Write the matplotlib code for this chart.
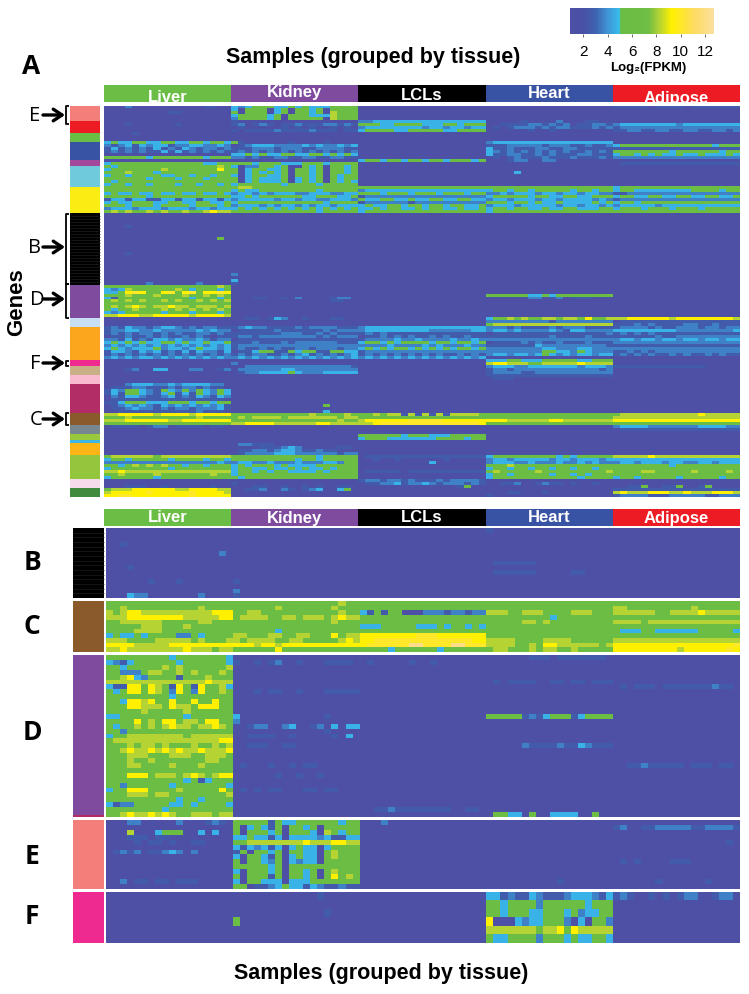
import numpy as np
import matplotlib
matplotlib.use("Agg")
import matplotlib.pyplot as plt
from matplotlib.colors import LinearSegmentedColormap

# tissues
tissues = ["Liver", "Kidney", "LCLs", "Heart", "Adipose"]
tissue_colors = ["#6ABD45", "#7F4B9E", "#000000", "#3953A4", "#ED1C24"]

# expression classes, log2(FPKM) per class
level_values = [1.0, 2.6, 3.6, 4.7, 6.0, 8.2, 9.2, 10.0, 12.0]

# colour bar
bar_ticks = [2, 4, 6, 8, 10, 12]
cmap_values = [0.9, 2.0, 3.0, 4.0, 4.95, 5.0, 7.3, 8.2, 9.2, 11.0, 12.65]
cmap_colors = ["#4F50A5", "#4851A5", "#3F63B0", "#3E97D6", "#38BDEE", "#6ABD45",
               "#6FBE44", "#B5D334", "#FFF100", "#FFDC60", "#FCDFA0"]

# row clusters of panel A (number of rows, colour)
cluster_rows = [5, 4, 3, 6, 2, 7, 9, 24, 11, 3, 11, 2, 3, 3, 10, 4, 3, 2, 1, 4, 8, 3, 3]
cluster_colors = ["#F27F7A", "#ED1C24", "#6ABD45", "#3953A4", "#A2479B", "#6FCBDC", "#FBEC14",
                  "#000000", "#7F4B9E", "#C6DFF3", "#FBA61C", "#EE2A90", "#C8AF85", "#F9B9CF",
                  "#B22D66", "#8B5A2B", "#78878F", "#99C83C", "#3DB7E4", "#FDB515", "#94C63D",
                  "#F6DCEB", "#3F8B3E"]

# zoomed panels: label, sidebar colour
zoom_labels = ["B", "C", "D", "E", "F"]
zoom_colors = ["#000000", "#8B5A2B", "#7F4B9E", "#F27F7A", "#EE2A90"]

# panel A, one string per row, one char per sample (single char = whole tissue)
liver_a = ["000200000000001100", "0", "000000000110000000", "0", "0",
           "0", "000100000010000000", "0", "0",
           "000010000000000000", "0", "0",
           "343344334433443443", "212313233122332232", "131212131213212212", "121212113131212121", "0", "444444344444443444",
           "0", "344444444444443344",
           "434444444444444454", "344444445444444464", "444544434444444444", "344344443344344344", "444444344434443444", "434444444444444444", "344344344434434434",
           "444444444444444444", "444444444444444444", "343343343343343343", "444444344444444444", "133133113313313313", "343344433443344334", "444344434444344434", "233323332333233233", "454544545445445655"] \
    + ["0"] * 4 + ["000100000000000000"] + ["0"] * 3 + ["000000000000000040"] + ["0"] * 4 + ["000100000000000000"] + ["0"] * 9 + ["000000200000020000"] \
    + ["444444444444444454", "323544444454344434", "334676446746746676", "444544454445445454", "314444444444344434", "454545445454454545", "444444444444444444", "454565455655455545", "434454445454545454", "323444443444344434", "556665566666566665"] \
    + ["0"] * 3 \
    + ["121322123321212211", "122332232222232322", "121212212121122121", "011211212112121011", "221312133232232122", "343434334434334334", "232323232323232323", "343233342332343323", "133213231213132213", "121212121212121212", "232323323232323232"] \
    + ["0"] * 3 + ["000120033000220012"] + ["0"] * 4 \
    + ["000233322323333220", "011122111212212110", "132443214324243243", "131443213413143243", "021332112312132132", "011111111111111110", "113444333444344344", "012323213232323231", "011232212122122231", "001111111111121110"] \
    + ["556666656666566666", "444544444444454444", "555666666556666666", "444444444444444444"] \
    + ["011110122011110110"] + ["0"] * 9 \
    + ["455555545555555555", "344344444344443443", "222222222222222232", "443454545443443444", "344444444344444444", "556555555555555555", "445444454444444544", "344444434444444444"] \
    + ["0", "0", "000111001000000100", "455566666655666655", "566666766666766665", "667766666666766666"]

kidney_a = ["323444334343334444", "304440340443404444", "404440340443405444", "344443404443335444", "244443404444405444",
            "100000000000000000", "120121011211122121", "010000010101001010", "101111211112111011",
            "0", "0", "0",
            "410000001000010000", "012333222232322323", "111222122211222211", "121212121212121212", "334343344334434343", "221211221122112211",
            "0", "444344433344434444",
            "302244340043404434", "403443340443404434", "403434340443404434", "303443340443404344", "403433340343404344", "403433340343404343", "344444434444344444",
            "455444444444444444", "343344444444344444", "233232333223332233", "334344444433444334", "233333233233223332", "344444444444434444", "233323233232332333", "343434343434343434", "444444444444344444"] \
    + ["0"] * 20 + ["200000000000000000", "0", "300000000000000000", "100000000000000000"] \
    + ["0"] * 4 + ["000110010200001220", "000000000000001100"] + ["0"] * 5 \
    + ["001101320010001100", "0", "0"] \
    + ["123221111212222111", "011111211111121222", "111111122211212111", "122122222222121222", "011111111111111111", "111211121222222111", "122222222222222222", "121121211221222122", "011344114344114433", "121221121231212123", "232323232323232323"] \
    + ["0", "200000000000000000", "002222222222222221", "022222233222222222", "012233334322233333"] + ["0"] * 3 \
    + ["0"] * 7 + ["000000000000040000", "0", "000000000000030000"] \
    + ["444444444445444454", "454555545555555455", "444444444444444544", "556666555555665555"] \
    + ["0"] * 6 + ["022111000000000000", "000011123200000110", "011221233211211000", "012222333222222122"] \
    + ["444444444444344444", "444444444344344444", "233223222322233244", "343444343333444444", "344334334343343444", "344343443333434444", "344444444444444444", "434444444444444444"] \
    + ["0", "100000000000000000", "000110010010100110", "001120021012300340", "0", "0"]

lcl_a = ["0"] * 5 \
    + ["223333333333333333", "444334444333443444", "233333333233233233", "344443344444334444"] \
    + ["0"] * 9 + ["344344344344344434", "0"] + ["0"] * 7 \
    + ["444444444444444444", "233333333333333333", "444344434443444344", "122222222222222222", "433443343344334433", "122222212222222222", "343344344344344334", "334344334344334334", "344444444444444444"] \
    + ["0"] * 38 \
    + ["233333333333333333", "233333333322222233", "121211111111111111", "011212121121211211", "122223223222232232", "344343444434434434", "222232222323222322", "343434434343434434", "122222222222222222", "121212121212112121", "232323232323232323"] \
    + ["0"] * 18 \
    + ["445455151515155554", "444444444444444444", "566666677777666666", "556777777777777776"] \
    + ["0"] * 3 + ["444444344433344444", "344433333334444344"] + ["0"] * 5 \
    + ["011111111111111111", "001001000000100000", "000000000030000000", "0", "0", "011111011111111111", "0", "0"] \
    + ["122122121112122221", "011223122321222121", "000000000000001400", "0", "0", "0"]

heart_a = ["0"] * 5 \
    + ["000001000020001100", "001111221212011221", "010122212122111212", "000000100100000000"] \
    + ["0"] * 3 \
    + ["233333333333333333", "111222221222112112", "311211122112211111", "321212121212112121", "311221121211122111", "010121112111211121", "000122002200000000", "0"] \
    + ["0", "0", "000030000000000000", "0", "0", "0", "0"] \
    + ["444444444444444444", "344344344444344344", "223233323323323322", "344444344334433444", "233233323323333232", "444344343343333434", "233323333323323323", "344344334334433344", "344444444444444444"] \
    + ["0"] * 27 + ["444444334344444444", "000000220120111000"] + ["0"] * 6 \
    + ["344545445545546445", "222222222122222222", "455555555555555555"] \
    + ["222121111212221111", "233232222321332222", "011111111111111112", "111111111211112111", "222222222222222222", "011112121121112111", "111111132222222221", "222222223322233222", "222222224433243222", "233233234323233233", "0"] \
    + ["333443334444433444", "566555445555565555", "233322333333323332", "122122222222222212", "122221122222222222", "111111111111111111", "011100000000000000", "0"] \
    + ["0"] * 10 \
    + ["444444444444444444", "444444444444444444", "666555555665555555", "444444444444444444"] \
    + ["0"] * 10 \
    + ["344444444434344444", "233233333233233323", "233322322232232322", "444544444444444444", "344344344344344344", "454444454444444445", "344344444344343444", "344444444444434444"] \
    + ["0", "001120012110100100", "0", "0", "000110001000000000", "100000000000000000"]

adipose_a = ["111110111101111111"] + ["0"] * 5 \
    + ["233333333233333333", "122222222222222222", "112211221122112212"] + ["0"] * 4 \
    + ["344444444444443444", "111111111111111111", "444444443444444344", "344343433433433343", "222222222222222222", "0", "011111111111111111"] \
    + ["0"] * 7 \
    + ["344444444444444444", "344333333334444344", "112222222222222222", "344334433443344334", "122222222222222222", "344344444444444444", "233333233333333333", "344434443444344444", "444444444444444444"] \
    + ["0"] * 35 \
    + ["556666665666666665", "011111111111111111", "111212111122112111"] \
    + ["122221211222122122", "333333333222222223", "121212111111111111", "111111211222222222", "233233233233233233", "222222222222222222", "111111111111111111", "222222222222222222", "112121222222222222", "121212112121121211", "0"] \
    + ["0", "0", "111111111111100000"] + ["0"] * 15 \
    + ["455555555555655555", "555555555555555555", "666666666666666666", "444444444444444444"] \
    + ["233332222222333322", "011111111111111111"] + ["0"] * 8 \
    + ["555556555555555555", "333333333333333333", "233233323322332333", "444444443444444444", "444444444444444444", "444455444445444454", "444444444444444444", "344344444344444344"] \
    + ["0", "0", "001140011400140000", "111111111111111111", "565556665565556665", "122221112222211222"]

# panel B, 15 rows
liver_b = ["0", "0", "0", "001000000000000000", "0", "000000000000000020", "0", "0", "000100000000000000", "0", "0", "000000100010000000", "0", "0", "000322000000020000"]
kidney_b = ["0"] * 11 + ["100000000000000000", "0", "200000000000000000", "100000000000000000"]
lcl_b = ["0"] * 15
heart_b = ["100000000000000000"] + ["0"] * 6 + ["011111100000000000", "0", "011111100000110000"] + ["0"] * 5
adipose_b = ["0"] * 15

# panel C, 11 rows
liver_c = ["444444444444444444", "445444444444454444", "545665555555555666", "555666666665555566", "445555554444455444", "444445554445444444", "444455554444444444", "343343444422434444", "555444455555454445", "666655555666666666", "556555555556555455"]
kidney_c = ["444444444444444544", "444444544444445444", "445544444444444544", "455554455455545655", "444444444444445444", "444444444444444444", "444444344444444444", "554445544554446455", "545555445544444565", "666566566666666666", "444444644444444444"]
lcl_c = ["444444444444444444", "444444444444444444", "314144000222122122", "444444444444444444", "444444444444444444", "333444443334344343", "444444444444444444", "666666667776666666", "667777777777777766", "677777788777788777", "444434444443444444"]
heart_c = ["444444444444444444", "444444444444444444", "555445554444555444", "444444444344444444", "444445545444444444", "444444444444444444", "444444444444444444", "444444444444444444", "555544445555444444", "555544546655555545", "455444545544544444"]
adipose_c = ["444444444444444444", "554444444445444444", "555555445555655555", "444444444444444444", "555545555555555555", "444444444444444444", "433344333333444443", "444444444444444444", "555555555555555555", "666666666666666667", "666666666566666676"]

# panel D, 33 rows
liver_d = ["444444444344444443", "321344444434444443", "443444445454444445", "442224554454544454", "445632444414445444", "555555555555556555", "311664654164164453", "434664654264264454", "444444444344444444", "443665644644644644", "444665554655466644", "444445444445444444", "334444444443444444", "444464546645546644", "434454545655455654", "442444444444444444", "344555555554555555", "455555555555555566", "444545545444544545", "445655656565565556", "444555444555445554", "444544544444445544", "444554444544454444", "444444444444444444", "444666455545654566", "444444444443413444", "442444444344444443", "344666444454444464", "444555455444444445", "444444444434434444", "312244444334344443", "444444443444444444", "445655656544555455"]
kidney_d = ["0", "100101200100011110"] + ["0"] * 5 + ["000101100100011111"] + ["0"] * 4 + ["300000000000010000", "200000000000000000", "001220023001203033", "000000000000010000", "001111001000001030", "0", "001110011000000000"] + ["0"] * 3 + ["010001001011000000", "0", "000000100100100000", "0", "0", "010101100011011000"] + ["0"] * 5
lcl_d = ["0", "010000010010000000"] + ["0"] * 29 + ["001121111111100110", "0"]
heart_d = ["000000111011111110"] + ["0"] * 4 + ["010111100110110111"] + ["0"] * 6 + ["444441213444134444"] + ["0"] * 5 + ["000002111121132111"] + ["0"] * 13 + ["044330400333300400"]
adipose_d = ["0"] * 6 + ["010111011111112110"] + ["0"] * 15 + ["001121111101110110"] + ["0"] * 10

# panel E, 14 rows
liver_e = ["000220000020001210", "0", "000500034440030300", "000111011000000000", "000010110100110000", "0", "012120112320200000"] + ["0"] * 5 + ["002011011011100000", "0"]
kidney_e = ["444441433444444344", "403431404434044444", "404443404443054344", "334331303333231133", "445555555565556655", "313231303433034444", "140443404433045444", "304431403433045444", "404432403233044444", "444443404444444444", "304443404434045444", "404441404434046454", "304433303334444444", "440112343313211211"]
lcl_e = ["000200000000000000"] + ["0"] * 13
heart_e = ["0"] * 12 + ["000000000010000000", "0"]
adipose_e = ["0", "120011222221122221", "0", "0", "000000000000000010", "0", "0", "0", "010100001110000000", "0", "0", "0", "000000100000010000", "0"]

# panel F, 6 rows
liver_f = ["0"] * 6
kidney_f = ["000000000000100000", "0", "000000000000010000", "400000000000000000", "0", "0"]
lcl_f = ["0"] * 6
heart_f = ["331211321112333213", "443444424444443444", "443444334443423344", "600032334442030442", "555555545564655555", "433444424443433443"]
adipose_f = ["121001010122001220", "0", "0", "0", "0", "0"]


def block(rows):
    out = []
    for r in rows:
        if len(r) == 1:
            r = r * 18
        out.append([level_values[int(c)] for c in r[:18].ljust(18, r[-1])])
    return np.array(out)


def panel(*tissue_rows):
    return np.hstack([block(t) for t in tissue_rows])


W, H = 749, 994
plt.rcParams['font.family'] = ['Liberation Sans', 'DejaVu Sans']
fig = plt.figure(figsize=(W / 100, H / 100), dpi=100)


def px_axes(x0, y0, x1, y1):
    ax = fig.add_axes([x0 / W, 1 - y1 / H, (x1 - x0) / W, (y1 - y0) / H])
    ax.axis("off")
    return ax


# colormap follows the colour bar, which has a hard step blue to green at 5
lo, hi = cmap_values[0], cmap_values[-1]
cmap = LinearSegmentedColormap.from_list(
    "fpkm", [((v - lo) / (hi - lo), c) for v, c in zip(cmap_values, cmap_colors)], N=512)

# overlay in picture pixels, for bars, brackets and text
ov = px_axes(0, 0, W, H)
ov.set_xlim(0, W)
ov.set_ylim(H, 0)


def heat(data, x0, y0, x1, y1):
    ax = px_axes(x0, y0, x1, y1)
    ax.imshow(data, cmap=cmap, vmin=lo, vmax=hi, aspect="auto", interpolation="nearest")
    return ax


def header(x0, x1, y0, y1, label_y):
    step = (x1 - x0) / len(tissues)
    for i, (name, col) in enumerate(zip(tissues, tissue_colors)):
        ov.barh((y0 + y1) / 2, step, height=y1 - y0, left=x0 + i * step, color=col, lw=0)
        ov.text(x0 + (i + 0.5) * step, label_y[i], name, color="white", fontsize=12,
                fontweight="bold", ha="center", va="center")


# panel A
heat(panel(liver_a, kidney_a, lcl_a, heart_a, adipose_a), 104, 106, 739.6, 497)
header(104, 740, 85, 102, [97, 93, 96, 94, 98])
unit = (497 - 106) / sum(cluster_rows)
tops = np.cumsum([0] + cluster_rows[:-1])
ov.bar([85] * len(cluster_rows), np.array(cluster_rows) * unit, bottom=106 + tops * unit,
       width=30, color=cluster_colors, lw=0)
ov.hlines(213 + np.arange(1, 24) * 3, 70, 100, color="#1e1e1e", lw=0.5)

# zoomed panels
zoom_data = [panel(liver_b, kidney_b, lcl_b, heart_b, adipose_b),
             panel(liver_c, kidney_c, lcl_c, heart_c, adipose_c),
             panel(liver_d, kidney_d, lcl_d, heart_d, adipose_d),
             panel(liver_e, kidney_e, lcl_e, heart_e, adipose_e),
             panel(liver_f, kidney_f, lcl_f, heart_f, adipose_f)]
zoom_boxes = [(528, 598), (601, 652), (655, 817), (820, 889), (892, 943)]
label_y = [563, 627, 733, 857, 917]
for data, (y0, y1), col, lab, ly in zip(zoom_data, zoom_boxes, zoom_colors, zoom_labels, label_y):
    heat(data, 106, y0, 739.6, y1)
    ov.bar(88.5, y1 - y0, bottom=y0, width=31, color=col, lw=0)
    ov.text(32, ly, lab, fontsize=19, fontweight="bold", family=["Open Sans", "DejaVu Sans"],
            ha="center", va="center")
header(104, 740, 509, 526, [518] * 5)
ov.hlines(528 + np.arange(1, 15) * 4.67, 73, 104, color="#1e1e1e", lw=0.5)
ov.bar(88.5, 2, bottom=815, width=31, color="#B22D66", lw=0)
for i, col in enumerate(tissue_colors):
    ov.barh(651.5, 126.8, height=1.2, left=106 + i * 126.8, color=col, lw=0)

# titles
ov.text(373, 58, "Samples (grouped by tissue)", fontsize=15.5, fontweight="bold", ha="center", va="center")
ov.text(381, 973, "Samples (grouped by tissue)", fontsize=15.5, fontweight="bold", ha="center", va="center")
ov.text(17, 302, "Genes", fontsize=16, fontweight="bold", rotation=90, ha="center", va="center")
ov.text(31, 66, "A", fontsize=19, fontweight="bold", family=["Open Sans", "DejaVu Sans"], ha="center", va="center")

# arrows and brackets on panel A
for lab, y, x in [("E", 116, 35), ("B", 248, 35), ("D", 300, 37), ("F", 364, 35), ("C", 420, 36)]:
    ov.text(x, y, lab, fontsize=14.5, family=["Open Sans", "DejaVu Sans"], ha="center", va="center")
    ov.annotate("", xy=(65, y - 1), xytext=(43, y - 1),
                arrowprops=dict(arrowstyle="->,head_length=0.45,head_width=0.3", lw=2.4, color="black",
                                mutation_scale=14, shrinkA=0, shrinkB=0))
for y0, y1 in [(106, 124), (214, 284), (284, 318), (361, 366), (413, 425)]:
    ov.plot([69, 66, 66, 69], [y0, y0, y1, y1], color="black", lw=1.3, solid_capstyle="butt")

# colour bar
cax = px_axes(570, 8, 713, 34)
cax.imshow(np.linspace(lo, hi, 512)[None, :], cmap=cmap, vmin=lo, vmax=hi, aspect="auto",
           extent=[lo, hi, 0, 1])
cax.axis("on")
cax.set_yticks([])
cax.set_xticks(bar_ticks)
cax.tick_params(axis="x", length=2, width=0.6, pad=6, labelsize=11, color="#555555")
for s in cax.spines.values():
    s.set_visible(False)
ov.text(648, 68, "Log\u2082(FPKM)", fontsize=9.5, fontweight="bold", ha="center", va="center")

fig.savefig("out.png", dpi=100)
